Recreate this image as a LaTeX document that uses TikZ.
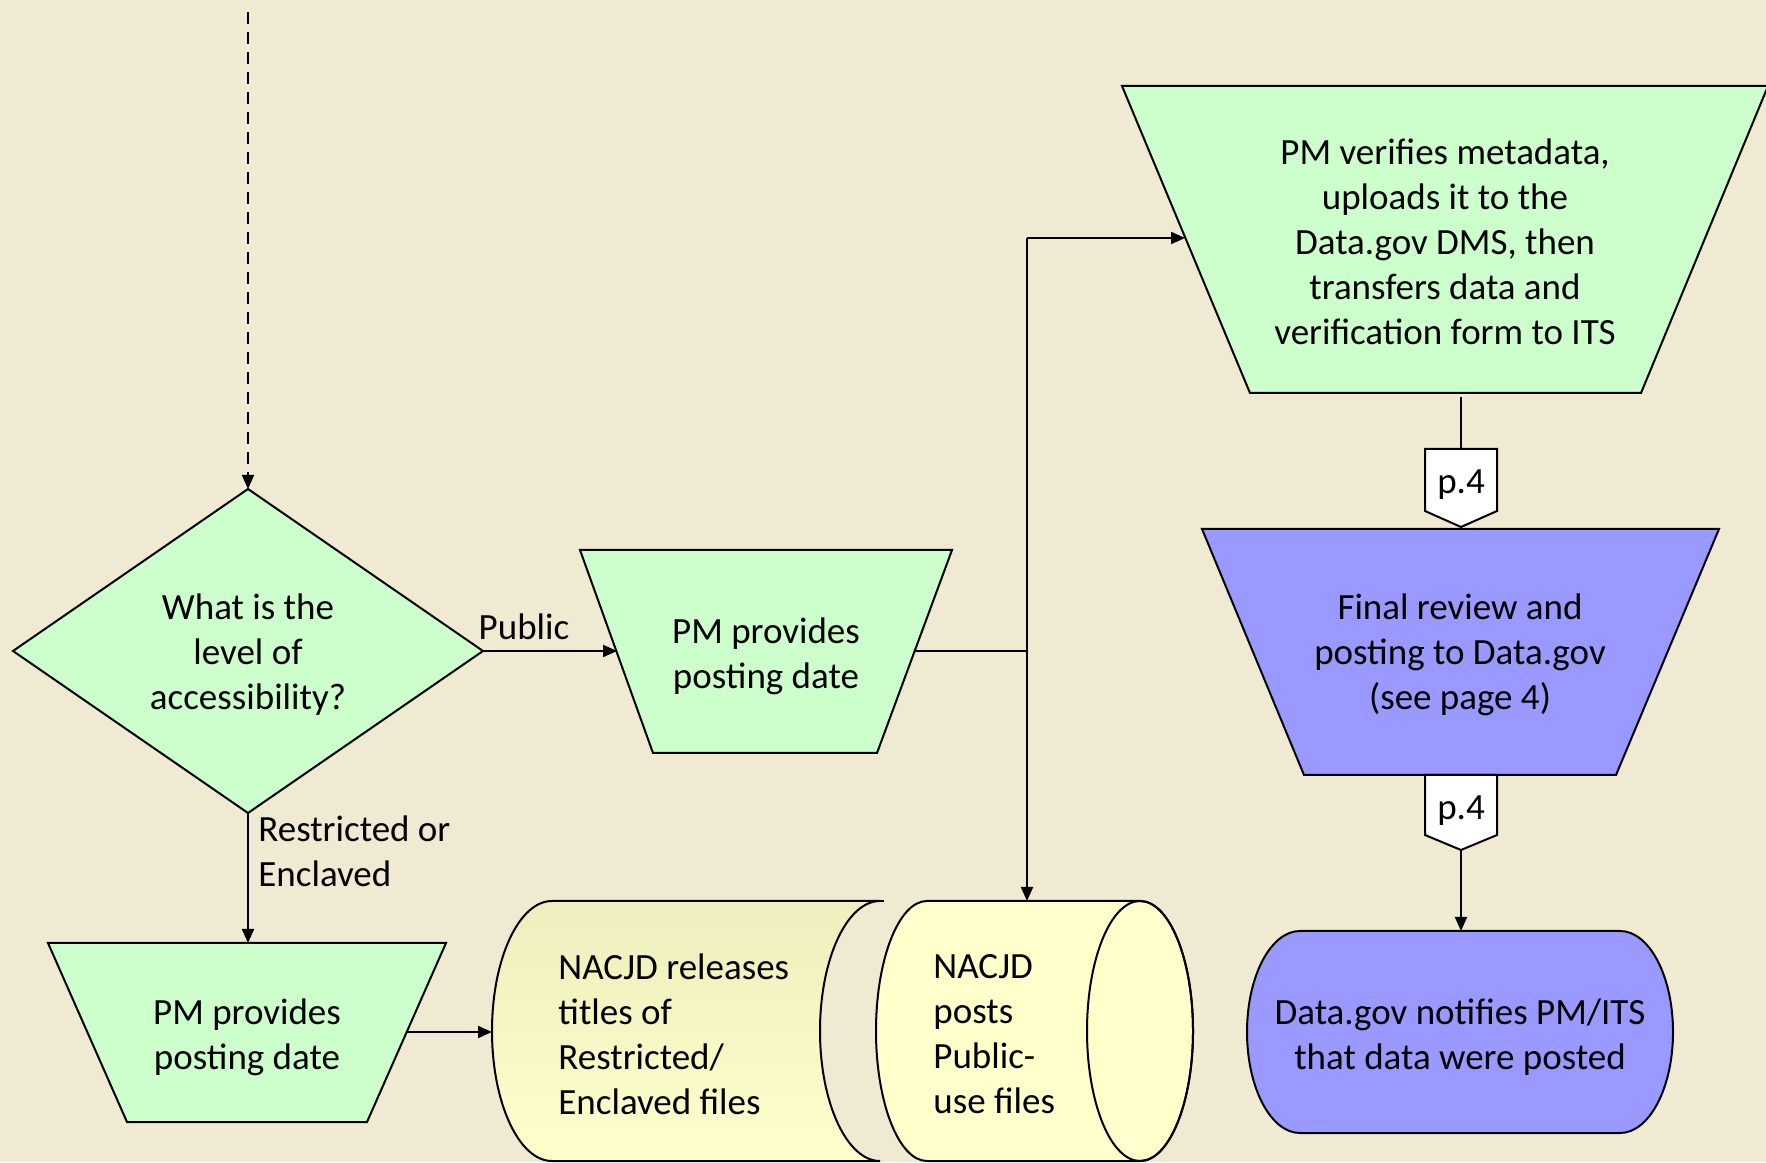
\documentclass[tikz,border=0pt]{standalone}
\usepackage{fontspec}
\setmainfont{Carlito}
\usetikzlibrary{arrows.meta}
\definecolor{bg}{RGB}{240,234,211}
\definecolor{grn}{RGB}{204,255,204}
\definecolor{prp}{RGB}{153,153,255}
\definecolor{ylw}{RGB}{255,255,204}
\definecolor{ylwtop}{RGB}{238,238,190}
\begin{document}
\begin{tikzpicture}[x=0.5pt,y=0.5pt,
  shp/.style={draw=black, line width=1pt, line join=miter},
  txt/.style={inner sep=0pt, align=center, font=\fontsize{18.5}{22.5}\selectfont},
  ltxt/.style={inner sep=0pt, align=left, anchor=west, font=\fontsize{18.5}{22.5}\selectfont},
  conn/.style={draw=black, line width=1pt},
  arr/.style={conn, -{Triangle[length=7pt,width=6pt]}},
]
\fill[bg] (0,0) rectangle (1766,1162);
\useasboundingbox (0,0) rectangle (1766,1162);
\begin{scope}
\clip (0,0) rectangle (1766,1162);
% diamond
\path[shp, fill=grn] (13,511) -- (248,673) -- (483,511) -- (248,349) -- cycle;
\node[txt] (qn) at (248,507) {What is the\\level of\\accessibility?};
% trapezoid 1
\path[shp, fill=grn] (580,612) -- (952,612) -- (877,409) -- (653,409) -- cycle;
\node[txt] (pd1) at (766,506) {PM provides\\posting date};
% big trapezoid
\path[shp, fill=grn] (1122,1076) -- (1768,1076) -- (1641,769) -- (1250,769) -- cycle;
\node[txt] (ver) at (1445,920) {PM verifies metadata,\\uploads it to the\\Data.gov DMS, then\\transfers data and\\verification form to ITS};
% purple trapezoid
\path[shp, fill=prp] (1202,633) -- (1719,633) -- (1616,387) -- (1304,387) -- cycle;
\node[txt] (fin) at (1460,507) {Final review and\\posting to Data.gov\\(see page 4)};
% off-page connectors
\path[shp, fill=white] (1425,713) -- (1497,713) -- (1497,651) -- (1461,635) -- (1425,651) -- cycle;
\node[txt] (p4a) at (1461,677) {p.4};
\path[shp, fill=white] (1425,387) -- (1497,387) -- (1497,327) -- (1461,312) -- (1425,327) -- cycle;
\node[txt] (p4b) at (1461,351) {p.4};
% stadium
\path[shp, fill=prp] (1300,231) -- (1620,231) arc[start angle=90,end angle=-90,x radius=53,y radius=101] -- (1300,29) arc[start angle=270,end angle=90,x radius=53,y radius=101] -- cycle;
\node[txt] (note) at (1460,125) {Data.gov notifies PM/ITS\\that data were posted};
% trapezoid 2
\path[shp, fill=grn] (48,219) -- (446,219) -- (367,40) -- (127,40) -- cycle;
\node[txt] (pd2) at (247,125) {PM provides\\posting date};
% cylinder 1
\path[shp, top color=ylwtop, bottom color=ylw] (552,261) -- (880,261) arc[start angle=90,end angle=270,x radius=60,y radius=130] -- (552,1) arc[start angle=270,end angle=90,x radius=60,y radius=130] -- cycle;
\draw[shp] (878,261) -- (884,261);
\node[ltxt] (rel) at (558,128) {NACJD releases\\titles of\\Restricted/\\Enclaved files};
% cylinder 2
\path[shp, fill=ylw] (927,261) -- (1140,261) arc[start angle=90,end angle=-90,x radius=53,y radius=130] -- (927,1) arc[start angle=270,end angle=90,x radius=51,y radius=130] -- cycle;
\draw[shp] (1140,131) ellipse[x radius=53, y radius=130];
\node[ltxt] (pst) at (933,128) {NACJD\\posts\\Public-\\use files};
\end{scope}
% coordinates
\coordinate (start) at (248,1150);
\coordinate (qT) at (248,673);
\coordinate (qR) at (483,511);
\coordinate (qB) at (248,349);
\coordinate (pd1W) at (617,511);
\coordinate (pd1E) at (915,511);
\coordinate (jn) at (1027,511);
\coordinate (jt) at (1027,924);
\coordinate (verW) at (1185,924);
\coordinate (cyl2T) at (1027,261);
\coordinate (verB) at (1461,765);
\coordinate (p4aT) at (1461,713);
\coordinate (p4bTip) at (1461,312);
\coordinate (noteT) at (1461,231);
\coordinate (pd2T) at (248,219);
\coordinate (pd2E) at (406,130);
\coordinate (cyl1W) at (492,130);
% connectors
\draw[arr, dashed, dash pattern=on 6pt off 4pt] (start) -- (qT);
\draw[arr] (qR) -- (pd1W);
\node[txt] (lpub) at (524,535) {Public};
\draw[conn] (pd1E) -- (jn);
\draw[arr] (jt) -- (cyl2T);
\draw[arr] (jt) -- (verW);
\draw[conn] (verB) -- (p4aT);
\draw[arr] (p4bTip) -- (noteT);
\draw[arr] (qB) -- (pd2T);
\node[ltxt] (lres) at (258,311) {Restricted or\\Enclaved};
\draw[arr] (pd2E) -- (cyl1W);
\end{tikzpicture}
\end{document}
